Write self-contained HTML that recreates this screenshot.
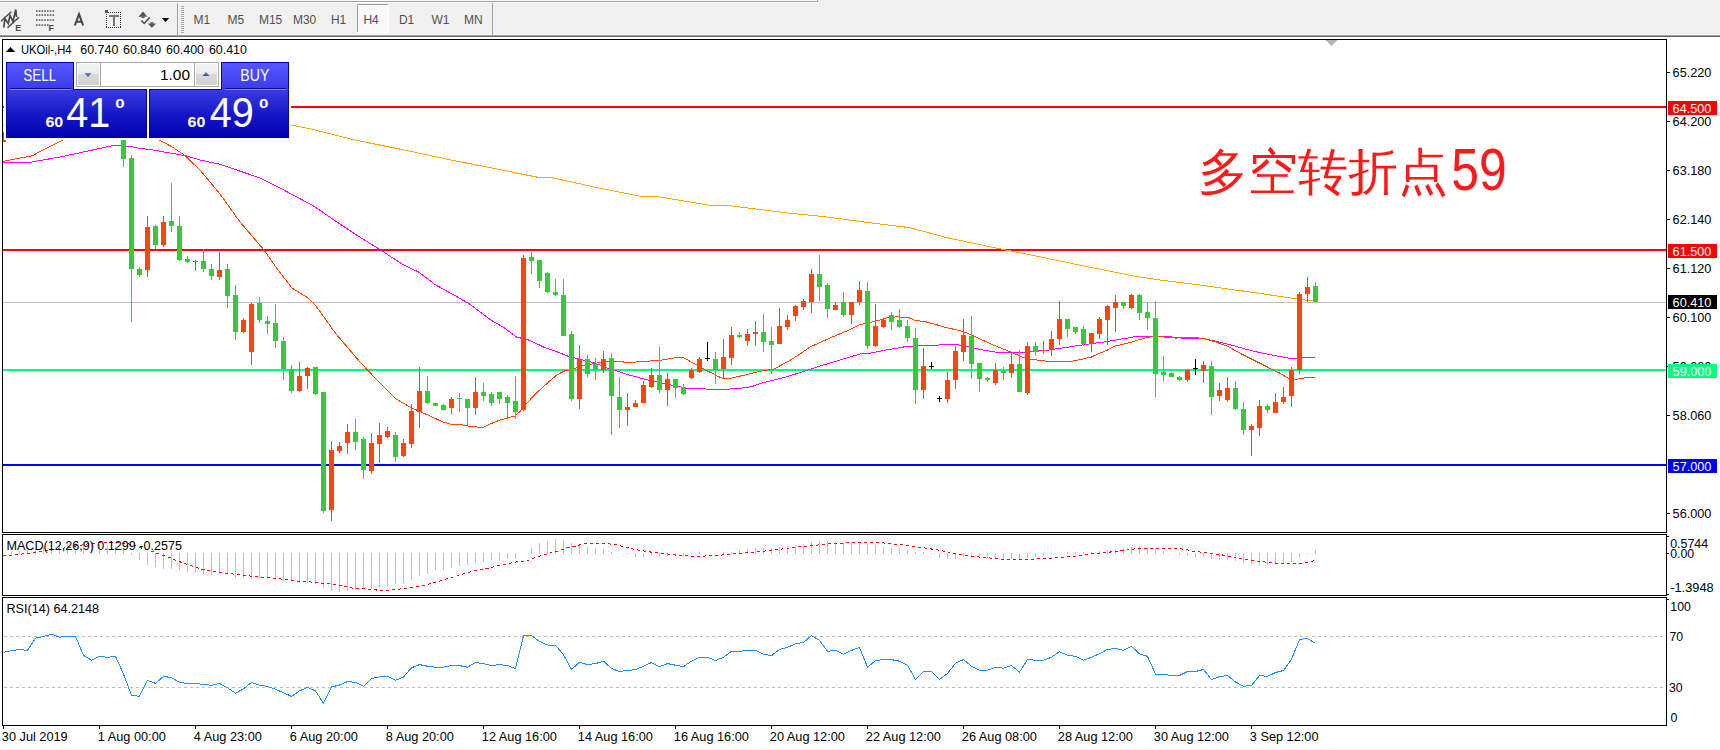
<!DOCTYPE html>
<html><head><meta charset="utf-8"><title>UKOil H4</title><style>html,body{margin:0;padding:0;background:#fff;width:1720px;height:750px;overflow:hidden}
svg{position:absolute;left:0;top:0}
svg text{font-family:"Liberation Sans",sans-serif}</style></head><body>
<svg width="1720" height="750" viewBox="0 0 1720 750" shape-rendering="crispEdges">
<rect x="0" y="0" width="1720" height="37" fill="#f0f0f0"/>
<rect x="0" y="0" width="817" height="1" fill="#fafafa"/>
<rect x="0" y="1" width="818" height="1" fill="#a0a0a0"/>
<rect x="817" y="0" width="1" height="2" fill="#a0a0a0"/>
<rect x="0" y="2" width="819" height="1" fill="#ffffff"/>
<rect x="0" y="34" width="1720" height="1" fill="#f9f9f9"/>
<rect x="0" y="35" width="1720" height="1" fill="#a0a0a0"/>
<rect x="0" y="36" width="1720" height="1" fill="#696969"/>
<rect x="0" y="37" width="1720" height="2" fill="#ffffff"/>
<g fill="none" stroke="#4a4a4a" stroke-width="1.5" shape-rendering="auto">
<path d="M1,21.2 L11.3,11.8 M7.5,27.8 L19,17.3"/>
<path d="M3.8,27.5 L4.8,18.5 L8.3,23.5 L10,15.5 L13,21.5 L15.8,9.5 L16.5,17" stroke-width="1.7"/>
</g>
<text x="15.2" y="30.6" font-family="DejaVu Sans" font-weight="bold" font-size="9" fill="#4a4a4a">E</text>
<rect x="36.00" y="10.3" width="1.6" height="1.5" fill="#555" shape-rendering="auto"/>
<rect x="38.75" y="10.3" width="1.6" height="1.5" fill="#555" shape-rendering="auto"/>
<rect x="41.50" y="10.3" width="1.6" height="1.5" fill="#555" shape-rendering="auto"/>
<rect x="44.25" y="10.3" width="1.6" height="1.5" fill="#555" shape-rendering="auto"/>
<rect x="47.00" y="10.3" width="1.6" height="1.5" fill="#555" shape-rendering="auto"/>
<rect x="49.75" y="10.3" width="1.6" height="1.5" fill="#555" shape-rendering="auto"/>
<rect x="52.50" y="10.3" width="1.6" height="1.5" fill="#555" shape-rendering="auto"/>
<rect x="36.00" y="14.3" width="1.6" height="1.5" fill="#555" shape-rendering="auto"/>
<rect x="38.75" y="14.3" width="1.6" height="1.5" fill="#555" shape-rendering="auto"/>
<rect x="41.50" y="14.3" width="1.6" height="1.5" fill="#555" shape-rendering="auto"/>
<rect x="44.25" y="14.3" width="1.6" height="1.5" fill="#555" shape-rendering="auto"/>
<rect x="47.00" y="14.3" width="1.6" height="1.5" fill="#555" shape-rendering="auto"/>
<rect x="49.75" y="14.3" width="1.6" height="1.5" fill="#555" shape-rendering="auto"/>
<rect x="52.50" y="14.3" width="1.6" height="1.5" fill="#555" shape-rendering="auto"/>
<rect x="36.00" y="19.3" width="1.6" height="1.5" fill="#555" shape-rendering="auto"/>
<rect x="38.75" y="19.3" width="1.6" height="1.5" fill="#555" shape-rendering="auto"/>
<rect x="41.50" y="19.3" width="1.6" height="1.5" fill="#555" shape-rendering="auto"/>
<rect x="44.25" y="19.3" width="1.6" height="1.5" fill="#555" shape-rendering="auto"/>
<rect x="47.00" y="19.3" width="1.6" height="1.5" fill="#555" shape-rendering="auto"/>
<rect x="49.75" y="19.3" width="1.6" height="1.5" fill="#555" shape-rendering="auto"/>
<rect x="52.50" y="19.3" width="1.6" height="1.5" fill="#555" shape-rendering="auto"/>
<rect x="36.00" y="24.3" width="1.6" height="1.5" fill="#555" shape-rendering="auto"/>
<rect x="38.75" y="24.3" width="1.6" height="1.5" fill="#555" shape-rendering="auto"/>
<rect x="41.50" y="24.3" width="1.6" height="1.5" fill="#555" shape-rendering="auto"/>
<rect x="44.25" y="24.3" width="1.6" height="1.5" fill="#555" shape-rendering="auto"/>
<rect x="47.00" y="24.3" width="1.6" height="1.5" fill="#555" shape-rendering="auto"/>
<text x="48.6" y="30.6" font-family="DejaVu Sans" font-weight="bold" font-size="9" fill="#4a4a4a">F</text>
<path d="M74.8,25.5 L79,14.2 L83.2,25.5 M76.4,21.8 L81.6,21.8" fill="none" stroke="#444" stroke-width="2" shape-rendering="auto"/>
<rect x="106" y="12" width="1" height="1" fill="#333"/>
<rect x="106" y="27" width="1" height="1" fill="#333"/>
<rect x="108" y="12" width="1" height="1" fill="#333"/>
<rect x="108" y="27" width="1" height="1" fill="#333"/>
<rect x="110" y="12" width="1" height="1" fill="#333"/>
<rect x="110" y="27" width="1" height="1" fill="#333"/>
<rect x="112" y="12" width="1" height="1" fill="#333"/>
<rect x="112" y="27" width="1" height="1" fill="#333"/>
<rect x="114" y="12" width="1" height="1" fill="#333"/>
<rect x="114" y="27" width="1" height="1" fill="#333"/>
<rect x="116" y="12" width="1" height="1" fill="#333"/>
<rect x="116" y="27" width="1" height="1" fill="#333"/>
<rect x="118" y="12" width="1" height="1" fill="#333"/>
<rect x="118" y="27" width="1" height="1" fill="#333"/>
<rect x="120" y="12" width="1" height="1" fill="#333"/>
<rect x="120" y="27" width="1" height="1" fill="#333"/>
<rect x="106" y="12" width="1" height="1" fill="#333"/>
<rect x="120" y="12" width="1" height="1" fill="#333"/>
<rect x="106" y="14" width="1" height="1" fill="#333"/>
<rect x="120" y="14" width="1" height="1" fill="#333"/>
<rect x="106" y="16" width="1" height="1" fill="#333"/>
<rect x="120" y="16" width="1" height="1" fill="#333"/>
<rect x="106" y="18" width="1" height="1" fill="#333"/>
<rect x="120" y="18" width="1" height="1" fill="#333"/>
<rect x="106" y="20" width="1" height="1" fill="#333"/>
<rect x="120" y="20" width="1" height="1" fill="#333"/>
<rect x="106" y="22" width="1" height="1" fill="#333"/>
<rect x="120" y="22" width="1" height="1" fill="#333"/>
<rect x="106" y="24" width="1" height="1" fill="#333"/>
<rect x="120" y="24" width="1" height="1" fill="#333"/>
<rect x="106" y="26" width="1" height="1" fill="#333"/>
<rect x="120" y="26" width="1" height="1" fill="#333"/>
<rect x="105" y="10" width="3" height="3" fill="#555"/>
<rect x="108.5" y="15" width="10" height="2" fill="#777"/>
<rect x="112.5" y="15" width="2.3" height="10.5" fill="#777"/>
<g fill="#555" shape-rendering="auto"><path d="M138.5,16.8 L143,11.6 L147.4,16.8 Z"/><rect x="141.5" y="16.5" width="3" height="1.5"/><path d="M147.6,23.4 L151.9,27.8 L156.2,23.4 Z"/><rect x="150.4" y="22.2" width="3" height="1.5"/></g>
<path d="M141.3,20.6 L144.3,23.4 L149.8,17.4" fill="none" stroke="#555" stroke-width="1.6" shape-rendering="auto"/>
<path d="M161.8,18 L169.2,18 L165.5,22 Z" fill="#000" shape-rendering="auto"/>
<rect x="177" y="3" width="1" height="32" fill="#a0a0a0"/>
<rect x="181" y="6" width="3" height="1" fill="#a8a8a8"/>
<rect x="181" y="8" width="3" height="1" fill="#a8a8a8"/>
<rect x="181" y="10" width="3" height="1" fill="#a8a8a8"/>
<rect x="181" y="12" width="3" height="1" fill="#a8a8a8"/>
<rect x="181" y="14" width="3" height="1" fill="#a8a8a8"/>
<rect x="181" y="16" width="3" height="1" fill="#a8a8a8"/>
<rect x="181" y="18" width="3" height="1" fill="#a8a8a8"/>
<rect x="181" y="20" width="3" height="1" fill="#a8a8a8"/>
<rect x="181" y="22" width="3" height="1" fill="#a8a8a8"/>
<rect x="181" y="24" width="3" height="1" fill="#a8a8a8"/>
<rect x="181" y="26" width="3" height="1" fill="#a8a8a8"/>
<rect x="181" y="28" width="3" height="1" fill="#a8a8a8"/>
<rect x="181" y="30" width="3" height="1" fill="#a8a8a8"/>
<rect x="181" y="32" width="3" height="1" fill="#a8a8a8"/>
<rect x="357" y="4" width="32" height="29" fill="#f8f8f8"/>
<rect x="357" y="4" width="32" height="1" fill="#a0a0a0"/>
<rect x="357" y="4" width="1" height="29" fill="#a0a0a0"/>
<rect x="357" y="32" width="32" height="1" fill="#ffffff"/>
<rect x="388" y="4" width="1" height="29" fill="#ffffff"/>
<rect x="492" y="3" width="1" height="32" fill="#a0a0a0"/>
<text x="193.4" y="24.1" font-size="12" fill="#505050">M1</text>
<text x="227.4" y="24.1" font-size="12" fill="#505050">M5</text>
<text x="258.9" y="24.1" font-size="12" fill="#505050">M15</text>
<text x="292.9" y="24.1" font-size="12" fill="#505050">M30</text>
<text x="330.9" y="24.1" font-size="12" fill="#505050">H1</text>
<text x="363.4" y="24.1" font-size="12" fill="#505050">H4</text>
<text x="398.9" y="24.1" font-size="12" fill="#505050">D1</text>
<text x="431.4" y="24.1" font-size="12" fill="#505050">W1</text>
<text x="463.9" y="24.1" font-size="12" fill="#505050">MN</text>
<rect x="0" y="749" width="1720" height="1" fill="#f0f0f0"/>
<defs><clipPath id="cm"><rect x="3" y="40" width="1663" height="492"/></clipPath><clipPath id="cd"><rect x="3" y="535" width="1663" height="60"/></clipPath><clipPath id="cr"><rect x="3" y="598" width="1663" height="127"/></clipPath><linearGradient id="gtab" x1="0" y1="0" x2="0" y2="1"><stop offset="0" stop-color="#5858ff"/><stop offset="1" stop-color="#3a3aec"/></linearGradient><linearGradient id="gpx" x1="0" y1="0" x2="0" y2="1"><stop offset="0" stop-color="#3c3ce4"/><stop offset="0.5" stop-color="#1818c8"/><stop offset="1" stop-color="#0000b0"/></linearGradient><linearGradient id="gbtn" x1="0" y1="0" x2="0" y2="1"><stop offset="0" stop-color="#f2f2f2"/><stop offset="0.45" stop-color="#ebebeb"/><stop offset="0.5" stop-color="#dadada"/><stop offset="1" stop-color="#d2d2d2"/></linearGradient><linearGradient id="garr" x1="0" y1="0" x2="0" y2="1"><stop offset="0" stop-color="#6f86d8"/><stop offset="1" stop-color="#3c4c90"/></linearGradient></defs>
<g clip-path="url(#cm)">
<rect x="3" y="302" width="1663" height="1" fill="#c0c0c0"/>
<rect x="3" y="106" width="1663" height="2" fill="#ff0000"/>
<rect x="3" y="249" width="1663" height="2" fill="#ff0000"/>
<rect x="3" y="369" width="1663" height="2" fill="#00ff7f"/>
<rect x="3" y="464" width="1663" height="2" fill="#0000ff"/>
<text x="1198.3" y="189" font-family="Liberation Sans, Noto Sans CJK SC, sans-serif" font-size="50" fill="#ff1a1a">多空转折点</text>
<text transform="translate(1451.2,189.5) scale(0.845,1)" font-family="Liberation Sans, sans-serif" font-size="59" fill="#ff1a1a">59</text>
<g fill="none" stroke-width="1" shape-rendering="crispEdges">
<polyline stroke="#ffa500" points="3.0,125.0 290.6,125.1 310.2,128.7 355.6,140.2 400.9,149.3 446.3,159.0 491.6,168.0 537.0,177.1 552.1,177.7 597.4,187.7 639.8,196.1 657.9,196.7 709.3,205.2 727.5,205.5 790.0,213.2 821.4,216.3 868.5,222.6 909.3,227.6 947.0,237.7 1003.5,249.6 1041.2,257.1 1088.3,266.9 1135.4,276.3 1160.0,280.0 1198.2,284.8 1261.0,293.6 1298.6,299.2 1314.0,301.0"/>
<polyline stroke="#ff00ff" points="3.0,162.3 30.0,162.3 61.4,156.7 93.0,149.9 113.0,145.5 122.0,145.5 130.0,146.5 140.0,148.3 154.4,150.2 170.0,153.0 186.0,155.8 200.0,160.0 219.5,164.2 260.5,178.1 280.0,188.0 313.3,205.8 340.0,224.0 355.6,234.5 380.0,249.6 401.3,263.5 418.4,272.0 435.4,284.8 454.6,295.4 469.6,304.0 490.9,320.0 503.7,327.4 516.5,337.0 529.3,340.2 544.0,347.2 556.0,351.4 568.0,356.2 580.0,359.2 594.4,362.8 608.8,368.8 618.4,371.4 630.0,375.2 646.0,379.5 662.0,383.2 678.0,386.4 687.6,388.5 703.6,388.8 718.0,390.0 742.0,388.0 752.0,386.6 760.0,383.6 770.0,381.0 786.0,377.0 802.0,372.0 820.0,366.0 840.0,360.0 860.0,354.0 870.0,353.3 887.3,349.8 904.7,346.8 927.2,345.5 948.0,344.6 956.9,344.6 967.3,346.3 976.0,348.6 984.7,350.3 995.1,352.0 1026.3,352.0 1046.0,350.4 1062.0,348.0 1078.0,345.6 1094.0,343.2 1106.8,341.6 1120.0,339.2 1127.3,338.1 1136.0,336.3 1167.2,336.3 1175.9,337.7 1191.5,338.6 1203.9,338.7 1216.0,341.3 1233.3,345.6 1250.7,350.5 1268.0,354.3 1280.0,356.5 1288.0,358.0 1298.0,358.0 1304.0,357.0 1315.0,357.4"/>
<polyline stroke="#ff4500" points="3.0,161.5 16.0,158.8 32.0,155.9 45.3,148.7 63.2,140.0 90.0,128.0 120.0,125.0 150.0,135.0 159.2,140.0 172.0,146.8 184.0,154.8 200.0,170.0 220.0,194.0 240.0,222.0 264.0,250.0 278.0,270.0 292.0,288.0 308.0,298.0 316.0,306.0 336.0,334.0 360.0,362.0 377.0,380.0 390.0,393.0 396.0,399.0 410.0,407.0 420.0,411.6 430.0,416.0 442.0,421.6 450.0,424.0 460.0,424.4 470.0,426.5 483.0,427.5 490.0,424.0 500.0,420.0 515.0,416.0 520.0,411.4 526.0,404.2 532.0,397.6 538.0,391.6 544.0,386.2 551.2,379.6 557.2,374.8 564.4,371.0 574.0,368.8 583.6,365.4 592.0,364.0 601.6,362.2 610.0,361.2 630.0,362.4 646.0,361.3 662.0,360.0 671.6,358.4 679.6,357.3 683.6,357.6 689.2,360.8 697.2,365.3 702.0,368.0 706.8,370.9 713.2,373.6 717.2,376.0 722.0,378.0 732.0,378.0 760.0,371.4 774.0,369.0 790.0,360.4 800.0,354.0 810.0,347.0 830.0,338.0 850.0,329.6 859.0,325.0 870.0,322.5 878.7,320.3 887.3,317.7 896.0,316.9 908.1,317.4 915.0,320.3 927.2,322.1 939.3,325.5 948.0,328.1 956.9,329.9 965.6,332.5 974.3,336.4 984.7,341.1 995.1,345.8 1010.7,352.0 1022.8,357.2 1031.5,359.3 1039.6,360.3 1049.2,361.6 1070.0,361.6 1078.0,360.0 1090.8,357.3 1098.8,353.6 1106.8,350.4 1114.8,346.1 1127.3,343.3 1144.7,338.1 1153.3,336.3 1167.2,337.2 1175.9,338.1 1182.8,337.2 1191.5,337.5 1203.9,338.3 1216.0,342.1 1228.1,346.5 1242.0,354.3 1255.9,361.2 1266.3,366.4 1272.0,369.5 1280.0,373.3 1288.0,378.0 1295.0,379.6 1306.0,377.6 1315.0,377.6"/>
</g>
<rect x="3" y="132" width="1" height="10" fill="#ff4500"/>
<rect x="1" y="140" width="5" height="2" fill="#ff4500"/>
<rect x="123" y="138" width="1" height="29" fill="#32cd32"/>
<rect x="121" y="140" width="5" height="19" fill="#32cd32"/>
<rect x="131" y="155" width="1" height="167" fill="#32cd32"/>
<rect x="129" y="158" width="5" height="111" fill="#32cd32"/>
<rect x="139" y="267" width="1" height="10" fill="#32cd32"/>
<rect x="137" y="269" width="5" height="6" fill="#32cd32"/>
<rect x="147" y="216" width="1" height="61" fill="#ff4500"/>
<rect x="145" y="227" width="5" height="43" fill="#ff4500"/>
<rect x="155" y="225" width="1" height="24" fill="#32cd32"/>
<rect x="153" y="226" width="5" height="19" fill="#32cd32"/>
<rect x="163" y="216" width="1" height="31" fill="#ff4500"/>
<rect x="161" y="222" width="5" height="23" fill="#ff4500"/>
<rect x="171" y="183" width="1" height="49" fill="#32cd32"/>
<rect x="169" y="221" width="5" height="5" fill="#32cd32"/>
<rect x="179" y="216" width="1" height="45" fill="#32cd32"/>
<rect x="177" y="226" width="5" height="34" fill="#32cd32"/>
<rect x="187" y="256" width="1" height="7" fill="#32cd32"/>
<rect x="185" y="259" width="5" height="3" fill="#32cd32"/>
<rect x="195" y="260" width="1" height="11" fill="#ff4500"/>
<rect x="193" y="261" width="5" height="1" fill="#ff4500"/>
<rect x="203" y="249" width="1" height="23" fill="#32cd32"/>
<rect x="201" y="261" width="5" height="8" fill="#32cd32"/>
<rect x="211" y="264" width="1" height="16" fill="#32cd32"/>
<rect x="209" y="269" width="5" height="7" fill="#32cd32"/>
<rect x="219" y="252" width="1" height="28" fill="#ff4500"/>
<rect x="217" y="270" width="5" height="7" fill="#ff4500"/>
<rect x="227" y="264" width="1" height="44" fill="#32cd32"/>
<rect x="225" y="269" width="5" height="27" fill="#32cd32"/>
<rect x="235" y="285" width="1" height="55" fill="#32cd32"/>
<rect x="233" y="295" width="5" height="37" fill="#32cd32"/>
<rect x="243" y="318" width="1" height="15" fill="#ff4500"/>
<rect x="241" y="320" width="5" height="12" fill="#ff4500"/>
<rect x="251" y="303" width="1" height="62" fill="#ff4500"/>
<rect x="249" y="304" width="5" height="48" fill="#ff4500"/>
<rect x="259" y="297" width="1" height="26" fill="#32cd32"/>
<rect x="257" y="303" width="5" height="17" fill="#32cd32"/>
<rect x="267" y="316" width="1" height="18" fill="#32cd32"/>
<rect x="265" y="321" width="5" height="3" fill="#32cd32"/>
<rect x="275" y="304" width="1" height="44" fill="#32cd32"/>
<rect x="273" y="323" width="5" height="18" fill="#32cd32"/>
<rect x="283" y="337" width="1" height="43" fill="#32cd32"/>
<rect x="281" y="341" width="5" height="28" fill="#32cd32"/>
<rect x="291" y="365" width="1" height="28" fill="#32cd32"/>
<rect x="289" y="369" width="5" height="22" fill="#32cd32"/>
<rect x="299" y="362" width="1" height="30" fill="#ff4500"/>
<rect x="297" y="376" width="5" height="15" fill="#ff4500"/>
<rect x="307" y="367" width="1" height="22" fill="#ff4500"/>
<rect x="305" y="368" width="5" height="8" fill="#ff4500"/>
<rect x="315" y="367" width="1" height="28" fill="#32cd32"/>
<rect x="313" y="367" width="5" height="27" fill="#32cd32"/>
<rect x="323" y="392" width="1" height="121" fill="#32cd32"/>
<rect x="321" y="392" width="5" height="119" fill="#32cd32"/>
<rect x="331" y="441" width="1" height="80" fill="#ff4500"/>
<rect x="329" y="450" width="5" height="60" fill="#ff4500"/>
<rect x="339" y="442" width="1" height="11" fill="#ff4500"/>
<rect x="337" y="446" width="5" height="5" fill="#ff4500"/>
<rect x="347" y="424" width="1" height="30" fill="#ff4500"/>
<rect x="345" y="432" width="5" height="11" fill="#ff4500"/>
<rect x="355" y="419" width="1" height="31" fill="#32cd32"/>
<rect x="353" y="432" width="5" height="10" fill="#32cd32"/>
<rect x="363" y="437" width="1" height="42" fill="#32cd32"/>
<rect x="361" y="439" width="5" height="31" fill="#32cd32"/>
<rect x="371" y="433" width="1" height="41" fill="#ff4500"/>
<rect x="369" y="443" width="5" height="28" fill="#ff4500"/>
<rect x="379" y="423" width="1" height="40" fill="#ff4500"/>
<rect x="377" y="435" width="5" height="9" fill="#ff4500"/>
<rect x="387" y="427" width="1" height="11" fill="#ff4500"/>
<rect x="385" y="431" width="5" height="6" fill="#ff4500"/>
<rect x="395" y="432" width="1" height="30" fill="#32cd32"/>
<rect x="393" y="435" width="5" height="22" fill="#32cd32"/>
<rect x="403" y="439" width="1" height="18" fill="#ff4500"/>
<rect x="401" y="443" width="5" height="13" fill="#ff4500"/>
<rect x="411" y="404" width="1" height="44" fill="#ff4500"/>
<rect x="409" y="411" width="5" height="33" fill="#ff4500"/>
<rect x="419" y="367" width="1" height="61" fill="#ff4500"/>
<rect x="417" y="391" width="5" height="21" fill="#ff4500"/>
<rect x="427" y="376" width="1" height="28" fill="#32cd32"/>
<rect x="425" y="391" width="5" height="12" fill="#32cd32"/>
<rect x="435" y="403" width="1" height="3" fill="#32cd32"/>
<rect x="433" y="403" width="5" height="3" fill="#32cd32"/>
<rect x="443" y="404" width="1" height="6" fill="#32cd32"/>
<rect x="441" y="405" width="5" height="5" fill="#32cd32"/>
<rect x="451" y="397" width="1" height="17" fill="#ff4500"/>
<rect x="449" y="399" width="5" height="9" fill="#ff4500"/>
<rect x="459" y="393" width="1" height="19" fill="#32cd32"/>
<rect x="457" y="398" width="5" height="1" fill="#32cd32"/>
<rect x="467" y="399" width="1" height="26" fill="#32cd32"/>
<rect x="465" y="399" width="5" height="9" fill="#32cd32"/>
<rect x="475" y="377" width="1" height="38" fill="#ff4500"/>
<rect x="473" y="392" width="5" height="16" fill="#ff4500"/>
<rect x="483" y="383" width="1" height="18" fill="#32cd32"/>
<rect x="481" y="392" width="5" height="4" fill="#32cd32"/>
<rect x="491" y="392" width="1" height="14" fill="#32cd32"/>
<rect x="489" y="394" width="5" height="9" fill="#32cd32"/>
<rect x="499" y="392" width="1" height="12" fill="#32cd32"/>
<rect x="497" y="392" width="5" height="7" fill="#32cd32"/>
<rect x="507" y="395" width="1" height="22" fill="#32cd32"/>
<rect x="505" y="397" width="5" height="6" fill="#32cd32"/>
<rect x="515" y="376" width="1" height="43" fill="#32cd32"/>
<rect x="513" y="401" width="5" height="11" fill="#32cd32"/>
<rect x="523" y="255" width="1" height="156" fill="#ff4500"/>
<rect x="521" y="258" width="5" height="152" fill="#ff4500"/>
<rect x="531" y="252" width="1" height="22" fill="#32cd32"/>
<rect x="529" y="257" width="5" height="4" fill="#32cd32"/>
<rect x="539" y="260" width="1" height="28" fill="#32cd32"/>
<rect x="537" y="260" width="5" height="21" fill="#32cd32"/>
<rect x="547" y="272" width="1" height="21" fill="#32cd32"/>
<rect x="545" y="273" width="5" height="19" fill="#32cd32"/>
<rect x="555" y="279" width="1" height="17" fill="#32cd32"/>
<rect x="553" y="292" width="5" height="3" fill="#32cd32"/>
<rect x="563" y="279" width="1" height="57" fill="#32cd32"/>
<rect x="561" y="295" width="5" height="41" fill="#32cd32"/>
<rect x="571" y="331" width="1" height="70" fill="#32cd32"/>
<rect x="569" y="334" width="5" height="65" fill="#32cd32"/>
<rect x="579" y="345" width="1" height="64" fill="#ff4500"/>
<rect x="577" y="359" width="5" height="40" fill="#ff4500"/>
<rect x="587" y="355" width="1" height="22" fill="#32cd32"/>
<rect x="585" y="359" width="5" height="15" fill="#32cd32"/>
<rect x="595" y="358" width="1" height="22" fill="#32cd32"/>
<rect x="593" y="364" width="5" height="6" fill="#32cd32"/>
<rect x="603" y="351" width="1" height="22" fill="#ff4500"/>
<rect x="601" y="359" width="5" height="11" fill="#ff4500"/>
<rect x="611" y="353" width="1" height="82" fill="#32cd32"/>
<rect x="609" y="358" width="5" height="38" fill="#32cd32"/>
<rect x="619" y="377" width="1" height="51" fill="#32cd32"/>
<rect x="617" y="397" width="5" height="13" fill="#32cd32"/>
<rect x="627" y="393" width="1" height="33" fill="#ff4500"/>
<rect x="625" y="407" width="5" height="3" fill="#ff4500"/>
<rect x="635" y="400" width="1" height="7" fill="#ff4500"/>
<rect x="633" y="403" width="5" height="4" fill="#ff4500"/>
<rect x="643" y="381" width="1" height="22" fill="#ff4500"/>
<rect x="641" y="385" width="5" height="18" fill="#ff4500"/>
<rect x="651" y="368" width="1" height="20" fill="#ff4500"/>
<rect x="649" y="375" width="5" height="12" fill="#ff4500"/>
<rect x="659" y="347" width="1" height="46" fill="#32cd32"/>
<rect x="657" y="375" width="5" height="15" fill="#32cd32"/>
<rect x="667" y="373" width="1" height="33" fill="#ff4500"/>
<rect x="665" y="379" width="5" height="11" fill="#ff4500"/>
<rect x="675" y="379" width="1" height="19" fill="#32cd32"/>
<rect x="673" y="379" width="5" height="9" fill="#32cd32"/>
<rect x="683" y="384" width="1" height="11" fill="#32cd32"/>
<rect x="681" y="387" width="5" height="7" fill="#32cd32"/>
<rect x="691" y="368" width="1" height="11" fill="#ff4500"/>
<rect x="689" y="370" width="5" height="8" fill="#ff4500"/>
<rect x="699" y="357" width="1" height="16" fill="#ff4500"/>
<rect x="697" y="359" width="5" height="13" fill="#ff4500"/>
<rect x="707" y="342" width="1" height="19" fill="#000"/>
<rect x="705" y="358" width="5" height="1" fill="#000"/>
<rect x="715" y="352" width="1" height="32" fill="#32cd32"/>
<rect x="713" y="359" width="5" height="11" fill="#32cd32"/>
<rect x="723" y="339" width="1" height="39" fill="#ff4500"/>
<rect x="721" y="357" width="5" height="12" fill="#ff4500"/>
<rect x="731" y="327" width="1" height="38" fill="#ff4500"/>
<rect x="729" y="335" width="5" height="23" fill="#ff4500"/>
<rect x="739" y="332" width="1" height="6" fill="#32cd32"/>
<rect x="737" y="335" width="5" height="2" fill="#32cd32"/>
<rect x="747" y="329" width="1" height="17" fill="#ff4500"/>
<rect x="745" y="334" width="5" height="7" fill="#ff4500"/>
<rect x="755" y="321" width="1" height="25" fill="#ff4500"/>
<rect x="753" y="332" width="5" height="2" fill="#ff4500"/>
<rect x="763" y="314" width="1" height="38" fill="#32cd32"/>
<rect x="761" y="332" width="5" height="10" fill="#32cd32"/>
<rect x="771" y="327" width="1" height="47" fill="#32cd32"/>
<rect x="769" y="341" width="5" height="4" fill="#32cd32"/>
<rect x="779" y="308" width="1" height="36" fill="#ff4500"/>
<rect x="777" y="326" width="5" height="18" fill="#ff4500"/>
<rect x="787" y="315" width="1" height="15" fill="#ff4500"/>
<rect x="785" y="320" width="5" height="7" fill="#ff4500"/>
<rect x="795" y="305" width="1" height="16" fill="#ff4500"/>
<rect x="793" y="306" width="5" height="10" fill="#ff4500"/>
<rect x="803" y="299" width="1" height="11" fill="#ff4500"/>
<rect x="801" y="301" width="5" height="6" fill="#ff4500"/>
<rect x="811" y="269" width="1" height="44" fill="#ff4500"/>
<rect x="809" y="274" width="5" height="28" fill="#ff4500"/>
<rect x="819" y="255" width="1" height="46" fill="#32cd32"/>
<rect x="817" y="274" width="5" height="13" fill="#32cd32"/>
<rect x="827" y="283" width="1" height="35" fill="#32cd32"/>
<rect x="825" y="285" width="5" height="24" fill="#32cd32"/>
<rect x="835" y="302" width="1" height="8" fill="#ff4500"/>
<rect x="833" y="305" width="5" height="5" fill="#ff4500"/>
<rect x="843" y="292" width="1" height="25" fill="#32cd32"/>
<rect x="841" y="302" width="5" height="13" fill="#32cd32"/>
<rect x="851" y="302" width="1" height="22" fill="#ff4500"/>
<rect x="849" y="302" width="5" height="13" fill="#ff4500"/>
<rect x="859" y="281" width="1" height="24" fill="#ff4500"/>
<rect x="857" y="290" width="5" height="12" fill="#ff4500"/>
<rect x="867" y="282" width="1" height="67" fill="#32cd32"/>
<rect x="865" y="291" width="5" height="55" fill="#32cd32"/>
<rect x="875" y="304" width="1" height="43" fill="#ff4500"/>
<rect x="873" y="326" width="5" height="20" fill="#ff4500"/>
<rect x="883" y="319" width="1" height="9" fill="#ff4500"/>
<rect x="881" y="320" width="5" height="7" fill="#ff4500"/>
<rect x="891" y="312" width="1" height="18" fill="#32cd32"/>
<rect x="889" y="315" width="5" height="7" fill="#32cd32"/>
<rect x="899" y="309" width="1" height="19" fill="#32cd32"/>
<rect x="897" y="320" width="5" height="7" fill="#32cd32"/>
<rect x="907" y="320" width="1" height="22" fill="#32cd32"/>
<rect x="905" y="326" width="5" height="12" fill="#32cd32"/>
<rect x="915" y="328" width="1" height="76" fill="#32cd32"/>
<rect x="913" y="338" width="5" height="52" fill="#32cd32"/>
<rect x="923" y="348" width="1" height="51" fill="#ff4500"/>
<rect x="921" y="366" width="5" height="24" fill="#ff4500"/>
<rect x="931" y="362" width="1" height="7" fill="#000"/>
<rect x="929" y="366" width="5" height="1" fill="#000"/>
<rect x="939" y="396" width="1" height="6" fill="#000"/>
<rect x="937" y="398" width="5" height="1" fill="#000"/>
<rect x="947" y="372" width="1" height="31" fill="#ff4500"/>
<rect x="945" y="380" width="5" height="19" fill="#ff4500"/>
<rect x="955" y="346" width="1" height="43" fill="#ff4500"/>
<rect x="953" y="351" width="5" height="29" fill="#ff4500"/>
<rect x="963" y="319" width="1" height="42" fill="#ff4500"/>
<rect x="961" y="335" width="5" height="17" fill="#ff4500"/>
<rect x="971" y="316" width="1" height="63" fill="#32cd32"/>
<rect x="969" y="336" width="5" height="28" fill="#32cd32"/>
<rect x="979" y="363" width="1" height="29" fill="#32cd32"/>
<rect x="977" y="363" width="5" height="16" fill="#32cd32"/>
<rect x="987" y="377" width="1" height="5" fill="#32cd32"/>
<rect x="985" y="378" width="5" height="2" fill="#32cd32"/>
<rect x="995" y="363" width="1" height="22" fill="#ff4500"/>
<rect x="993" y="370" width="5" height="13" fill="#ff4500"/>
<rect x="1003" y="367" width="1" height="13" fill="#32cd32"/>
<rect x="1001" y="371" width="5" height="2" fill="#32cd32"/>
<rect x="1011" y="352" width="1" height="26" fill="#ff4500"/>
<rect x="1009" y="364" width="5" height="9" fill="#ff4500"/>
<rect x="1019" y="350" width="1" height="42" fill="#32cd32"/>
<rect x="1017" y="364" width="5" height="28" fill="#32cd32"/>
<rect x="1027" y="342" width="1" height="53" fill="#ff4500"/>
<rect x="1025" y="346" width="5" height="47" fill="#ff4500"/>
<rect x="1035" y="342" width="1" height="14" fill="#32cd32"/>
<rect x="1033" y="346" width="5" height="6" fill="#32cd32"/>
<rect x="1043" y="341" width="1" height="13" fill="#ff4500"/>
<rect x="1041" y="350" width="5" height="1" fill="#ff4500"/>
<rect x="1051" y="331" width="1" height="25" fill="#ff4500"/>
<rect x="1049" y="339" width="5" height="11" fill="#ff4500"/>
<rect x="1059" y="301" width="1" height="44" fill="#ff4500"/>
<rect x="1057" y="319" width="5" height="20" fill="#ff4500"/>
<rect x="1067" y="319" width="1" height="18" fill="#32cd32"/>
<rect x="1065" y="319" width="5" height="10" fill="#32cd32"/>
<rect x="1075" y="327" width="1" height="7" fill="#32cd32"/>
<rect x="1073" y="327" width="5" height="5" fill="#32cd32"/>
<rect x="1083" y="326" width="1" height="20" fill="#32cd32"/>
<rect x="1081" y="329" width="5" height="15" fill="#32cd32"/>
<rect x="1091" y="333" width="1" height="19" fill="#ff4500"/>
<rect x="1089" y="333" width="5" height="11" fill="#ff4500"/>
<rect x="1099" y="317" width="1" height="22" fill="#ff4500"/>
<rect x="1097" y="319" width="5" height="15" fill="#ff4500"/>
<rect x="1107" y="305" width="1" height="40" fill="#ff4500"/>
<rect x="1105" y="306" width="5" height="14" fill="#ff4500"/>
<rect x="1115" y="295" width="1" height="37" fill="#ff4500"/>
<rect x="1113" y="302" width="5" height="6" fill="#ff4500"/>
<rect x="1123" y="302" width="1" height="7" fill="#32cd32"/>
<rect x="1121" y="302" width="5" height="4" fill="#32cd32"/>
<rect x="1131" y="294" width="1" height="15" fill="#ff4500"/>
<rect x="1129" y="295" width="5" height="13" fill="#ff4500"/>
<rect x="1139" y="294" width="1" height="26" fill="#32cd32"/>
<rect x="1137" y="295" width="5" height="18" fill="#32cd32"/>
<rect x="1147" y="303" width="1" height="27" fill="#32cd32"/>
<rect x="1145" y="312" width="5" height="6" fill="#32cd32"/>
<rect x="1155" y="301" width="1" height="96" fill="#32cd32"/>
<rect x="1153" y="318" width="5" height="56" fill="#32cd32"/>
<rect x="1163" y="356" width="1" height="25" fill="#32cd32"/>
<rect x="1161" y="372" width="5" height="3" fill="#32cd32"/>
<rect x="1171" y="372" width="1" height="5" fill="#32cd32"/>
<rect x="1169" y="373" width="5" height="4" fill="#32cd32"/>
<rect x="1179" y="376" width="1" height="5" fill="#32cd32"/>
<rect x="1177" y="377" width="5" height="3" fill="#32cd32"/>
<rect x="1187" y="369" width="1" height="13" fill="#ff4500"/>
<rect x="1185" y="370" width="5" height="10" fill="#ff4500"/>
<rect x="1195" y="359" width="1" height="16" fill="#000"/>
<rect x="1193" y="368" width="5" height="1" fill="#000"/>
<rect x="1203" y="361" width="1" height="22" fill="#ff4500"/>
<rect x="1201" y="365" width="5" height="6" fill="#ff4500"/>
<rect x="1211" y="361" width="1" height="54" fill="#32cd32"/>
<rect x="1209" y="366" width="5" height="31" fill="#32cd32"/>
<rect x="1219" y="383" width="1" height="18" fill="#ff4500"/>
<rect x="1217" y="390" width="5" height="6" fill="#ff4500"/>
<rect x="1227" y="377" width="1" height="25" fill="#ff4500"/>
<rect x="1225" y="388" width="5" height="12" fill="#ff4500"/>
<rect x="1235" y="381" width="1" height="29" fill="#32cd32"/>
<rect x="1233" y="388" width="5" height="21" fill="#32cd32"/>
<rect x="1243" y="402" width="1" height="33" fill="#32cd32"/>
<rect x="1241" y="409" width="5" height="21" fill="#32cd32"/>
<rect x="1251" y="424" width="1" height="32" fill="#ff4500"/>
<rect x="1249" y="426" width="5" height="4" fill="#ff4500"/>
<rect x="1259" y="400" width="1" height="36" fill="#ff4500"/>
<rect x="1257" y="406" width="5" height="22" fill="#ff4500"/>
<rect x="1267" y="404" width="1" height="9" fill="#32cd32"/>
<rect x="1265" y="406" width="5" height="4" fill="#32cd32"/>
<rect x="1275" y="393" width="1" height="20" fill="#ff4500"/>
<rect x="1273" y="402" width="5" height="11" fill="#ff4500"/>
<rect x="1283" y="387" width="1" height="17" fill="#ff4500"/>
<rect x="1281" y="397" width="5" height="5" fill="#ff4500"/>
<rect x="1291" y="367" width="1" height="40" fill="#ff4500"/>
<rect x="1289" y="370" width="5" height="26" fill="#ff4500"/>
<rect x="1299" y="292" width="1" height="82" fill="#ff4500"/>
<rect x="1297" y="294" width="5" height="76" fill="#ff4500"/>
<rect x="1307" y="277" width="1" height="25" fill="#ff4500"/>
<rect x="1305" y="287" width="5" height="7" fill="#ff4500"/>
<rect x="1315" y="282" width="1" height="20" fill="#32cd32"/>
<rect x="1313" y="286" width="5" height="16" fill="#32cd32"/>
</g>
<path d="M1325.5,40 L1337.5,40 L1331.5,46 Z" fill="#b4b4b4" shape-rendering="auto"/>
<rect x="2" y="39" width="1665" height="1" fill="#000"/>
<rect x="2" y="532" width="1665" height="1" fill="#000"/>
<rect x="2" y="39" width="1" height="494" fill="#000"/>
<rect x="1666" y="39" width="1" height="494" fill="#000"/>
<rect x="2" y="534" width="1665" height="1" fill="#000"/>
<rect x="2" y="595" width="1665" height="1" fill="#000"/>
<rect x="2" y="534" width="1" height="62" fill="#000"/>
<rect x="1666" y="534" width="1" height="62" fill="#000"/>
<rect x="2" y="597" width="1665" height="1" fill="#000"/>
<rect x="2" y="725" width="1665" height="1" fill="#000"/>
<rect x="2" y="597" width="1" height="129" fill="#000"/>
<rect x="1666" y="597" width="1" height="129" fill="#000"/>
<rect x="1667" y="72" width="3" height="1" fill="#000"/>
<text x="1672.6" y="77" font-size="12" fill="#000" textLength="38.8" lengthAdjust="spacingAndGlyphs">65.220</text>
<rect x="1667" y="121" width="3" height="1" fill="#000"/>
<text x="1672.6" y="126" font-size="12" fill="#000" textLength="38.8" lengthAdjust="spacingAndGlyphs">64.200</text>
<rect x="1667" y="170" width="3" height="1" fill="#000"/>
<text x="1672.6" y="175" font-size="12" fill="#000" textLength="38.8" lengthAdjust="spacingAndGlyphs">63.180</text>
<rect x="1667" y="219" width="3" height="1" fill="#000"/>
<text x="1672.6" y="224" font-size="12" fill="#000" textLength="38.8" lengthAdjust="spacingAndGlyphs">62.140</text>
<rect x="1667" y="268" width="3" height="1" fill="#000"/>
<text x="1672.6" y="273" font-size="12" fill="#000" textLength="38.8" lengthAdjust="spacingAndGlyphs">61.120</text>
<rect x="1667" y="317" width="3" height="1" fill="#000"/>
<text x="1672.6" y="322" font-size="12" fill="#000" textLength="38.8" lengthAdjust="spacingAndGlyphs">60.100</text>
<rect x="1667" y="366" width="3" height="1" fill="#000"/>
<text x="1672.6" y="371" font-size="12" fill="#000" textLength="38.8" lengthAdjust="spacingAndGlyphs">59.080</text>
<rect x="1667" y="415" width="3" height="1" fill="#000"/>
<text x="1672.6" y="420" font-size="12" fill="#000" textLength="38.8" lengthAdjust="spacingAndGlyphs">58.060</text>
<rect x="1667" y="513" width="3" height="1" fill="#000"/>
<text x="1672.6" y="518" font-size="12" fill="#000" textLength="38.8" lengthAdjust="spacingAndGlyphs">56.000</text>
<rect x="1668" y="101" width="49" height="14" fill="#ff0000"/>
<text x="1672.6" y="113" font-size="12" fill="#fff" textLength="38.8" lengthAdjust="spacingAndGlyphs">64.500</text>
<rect x="1668" y="244" width="49" height="14" fill="#ff0000"/>
<text x="1672.6" y="256" font-size="12" fill="#fff" textLength="38.8" lengthAdjust="spacingAndGlyphs">61.500</text>
<rect x="1668" y="295" width="49" height="14" fill="#000000"/>
<text x="1672.6" y="307" font-size="12" fill="#fff" textLength="38.8" lengthAdjust="spacingAndGlyphs">60.410</text>
<rect x="1668" y="364" width="49" height="14" fill="#00ff7f"/>
<text x="1672.6" y="376" font-size="12" fill="#fff" textLength="38.8" lengthAdjust="spacingAndGlyphs">59.000</text>
<rect x="1668" y="459" width="49" height="14" fill="#0000ff"/>
<text x="1672.6" y="471" font-size="12" fill="#fff" textLength="38.8" lengthAdjust="spacingAndGlyphs">57.000</text>
<path d="M5.8,52 L10.5,47 L15.2,52 Z" fill="#000" shape-rendering="auto"/>
<text x="21" y="54" font-size="12" fill="#000" textLength="50.5" lengthAdjust="spacingAndGlyphs">UKOil-,H4</text>
<text x="80.3" y="54" font-size="12" fill="#000" textLength="38.0" lengthAdjust="spacingAndGlyphs">60.740</text>
<text x="123.1" y="54" font-size="12" fill="#000" textLength="38.0" lengthAdjust="spacingAndGlyphs">60.840</text>
<text x="166" y="54" font-size="12" fill="#000" textLength="38.0" lengthAdjust="spacingAndGlyphs">60.400</text>
<text x="208.9" y="54" font-size="12" fill="#000" textLength="38.0" lengthAdjust="spacingAndGlyphs">60.410</text>
<g clip-path="url(#cd)">
<rect x="11" y="552" width="1" height="2" fill="#c0c0c0"/>
<rect x="19" y="551" width="1" height="3" fill="#c0c0c0"/>
<rect x="27" y="550" width="1" height="4" fill="#c0c0c0"/>
<rect x="35" y="550" width="1" height="4" fill="#c0c0c0"/>
<rect x="43" y="546" width="1" height="8" fill="#c0c0c0"/>
<rect x="51" y="544" width="1" height="10" fill="#c0c0c0"/>
<rect x="59" y="543" width="1" height="11" fill="#c0c0c0"/>
<rect x="67" y="543" width="1" height="11" fill="#c0c0c0"/>
<rect x="75" y="543" width="1" height="11" fill="#c0c0c0"/>
<rect x="83" y="543" width="1" height="11" fill="#c0c0c0"/>
<rect x="91" y="543" width="1" height="11" fill="#c0c0c0"/>
<rect x="99" y="544" width="1" height="10" fill="#c0c0c0"/>
<rect x="107" y="545" width="1" height="9" fill="#c0c0c0"/>
<rect x="115" y="546" width="1" height="8" fill="#c0c0c0"/>
<rect x="123" y="550" width="1" height="4" fill="#c0c0c0"/>
<rect x="131" y="553" width="1" height="2" fill="#c0c0c0"/>
<rect x="139" y="553" width="1" height="7" fill="#c0c0c0"/>
<rect x="147" y="553" width="1" height="12" fill="#c0c0c0"/>
<rect x="155" y="553" width="1" height="14" fill="#c0c0c0"/>
<rect x="163" y="553" width="1" height="16" fill="#c0c0c0"/>
<rect x="171" y="553" width="1" height="16" fill="#c0c0c0"/>
<rect x="179" y="553" width="1" height="17" fill="#c0c0c0"/>
<rect x="187" y="553" width="1" height="19" fill="#c0c0c0"/>
<rect x="195" y="553" width="1" height="20" fill="#c0c0c0"/>
<rect x="203" y="553" width="1" height="21" fill="#c0c0c0"/>
<rect x="211" y="553" width="1" height="22" fill="#c0c0c0"/>
<rect x="219" y="553" width="1" height="21" fill="#c0c0c0"/>
<rect x="227" y="553" width="1" height="21" fill="#c0c0c0"/>
<rect x="235" y="553" width="1" height="25" fill="#c0c0c0"/>
<rect x="243" y="553" width="1" height="25" fill="#c0c0c0"/>
<rect x="251" y="553" width="1" height="26" fill="#c0c0c0"/>
<rect x="259" y="553" width="1" height="25" fill="#c0c0c0"/>
<rect x="267" y="553" width="1" height="26" fill="#c0c0c0"/>
<rect x="275" y="553" width="1" height="26" fill="#c0c0c0"/>
<rect x="283" y="553" width="1" height="28" fill="#c0c0c0"/>
<rect x="291" y="553" width="1" height="29" fill="#c0c0c0"/>
<rect x="299" y="553" width="1" height="30" fill="#c0c0c0"/>
<rect x="307" y="553" width="1" height="30" fill="#c0c0c0"/>
<rect x="315" y="553" width="1" height="31" fill="#c0c0c0"/>
<rect x="323" y="553" width="1" height="35" fill="#c0c0c0"/>
<rect x="331" y="553" width="1" height="38" fill="#c0c0c0"/>
<rect x="339" y="553" width="1" height="39" fill="#c0c0c0"/>
<rect x="347" y="553" width="1" height="38" fill="#c0c0c0"/>
<rect x="355" y="553" width="1" height="37" fill="#c0c0c0"/>
<rect x="363" y="553" width="1" height="36" fill="#c0c0c0"/>
<rect x="371" y="553" width="1" height="36" fill="#c0c0c0"/>
<rect x="379" y="553" width="1" height="34" fill="#c0c0c0"/>
<rect x="387" y="553" width="1" height="33" fill="#c0c0c0"/>
<rect x="395" y="553" width="1" height="31" fill="#c0c0c0"/>
<rect x="403" y="553" width="1" height="30" fill="#c0c0c0"/>
<rect x="411" y="553" width="1" height="27" fill="#c0c0c0"/>
<rect x="419" y="553" width="1" height="23" fill="#c0c0c0"/>
<rect x="427" y="553" width="1" height="21" fill="#c0c0c0"/>
<rect x="435" y="553" width="1" height="17" fill="#c0c0c0"/>
<rect x="443" y="553" width="1" height="17" fill="#c0c0c0"/>
<rect x="451" y="553" width="1" height="15" fill="#c0c0c0"/>
<rect x="459" y="553" width="1" height="13" fill="#c0c0c0"/>
<rect x="467" y="553" width="1" height="12" fill="#c0c0c0"/>
<rect x="475" y="553" width="1" height="10" fill="#c0c0c0"/>
<rect x="483" y="553" width="1" height="9" fill="#c0c0c0"/>
<rect x="491" y="553" width="1" height="7" fill="#c0c0c0"/>
<rect x="499" y="553" width="1" height="7" fill="#c0c0c0"/>
<rect x="507" y="553" width="1" height="6" fill="#c0c0c0"/>
<rect x="515" y="553" width="1" height="6" fill="#c0c0c0"/>
<rect x="531" y="548" width="1" height="6" fill="#c0c0c0"/>
<rect x="539" y="543" width="1" height="11" fill="#c0c0c0"/>
<rect x="547" y="541" width="1" height="13" fill="#c0c0c0"/>
<rect x="555" y="539" width="1" height="15" fill="#c0c0c0"/>
<rect x="563" y="540" width="1" height="14" fill="#c0c0c0"/>
<rect x="571" y="543" width="1" height="11" fill="#c0c0c0"/>
<rect x="579" y="545" width="1" height="9" fill="#c0c0c0"/>
<rect x="587" y="547" width="1" height="7" fill="#c0c0c0"/>
<rect x="595" y="548" width="1" height="6" fill="#c0c0c0"/>
<rect x="603" y="549" width="1" height="5" fill="#c0c0c0"/>
<rect x="611" y="552" width="1" height="2" fill="#c0c0c0"/>
<rect x="627" y="553" width="1" height="1" fill="#c0c0c0"/>
<rect x="635" y="553" width="1" height="4" fill="#c0c0c0"/>
<rect x="643" y="553" width="1" height="4" fill="#c0c0c0"/>
<rect x="651" y="553" width="1" height="3" fill="#c0c0c0"/>
<rect x="659" y="553" width="1" height="3" fill="#c0c0c0"/>
<rect x="667" y="553" width="1" height="3" fill="#c0c0c0"/>
<rect x="675" y="553" width="1" height="2" fill="#c0c0c0"/>
<rect x="683" y="553" width="1" height="3" fill="#c0c0c0"/>
<rect x="691" y="553" width="1" height="1" fill="#c0c0c0"/>
<rect x="699" y="552" width="1" height="2" fill="#c0c0c0"/>
<rect x="723" y="552" width="1" height="2" fill="#c0c0c0"/>
<rect x="731" y="552" width="1" height="2" fill="#c0c0c0"/>
<rect x="739" y="550" width="1" height="4" fill="#c0c0c0"/>
<rect x="747" y="549" width="1" height="5" fill="#c0c0c0"/>
<rect x="755" y="548" width="1" height="6" fill="#c0c0c0"/>
<rect x="763" y="548" width="1" height="6" fill="#c0c0c0"/>
<rect x="771" y="548" width="1" height="6" fill="#c0c0c0"/>
<rect x="779" y="547" width="1" height="7" fill="#c0c0c0"/>
<rect x="787" y="546" width="1" height="8" fill="#c0c0c0"/>
<rect x="795" y="545" width="1" height="9" fill="#c0c0c0"/>
<rect x="803" y="544" width="1" height="10" fill="#c0c0c0"/>
<rect x="811" y="542" width="1" height="12" fill="#c0c0c0"/>
<rect x="819" y="541" width="1" height="13" fill="#c0c0c0"/>
<rect x="827" y="541" width="1" height="13" fill="#c0c0c0"/>
<rect x="835" y="542" width="1" height="12" fill="#c0c0c0"/>
<rect x="843" y="542" width="1" height="12" fill="#c0c0c0"/>
<rect x="851" y="542" width="1" height="12" fill="#c0c0c0"/>
<rect x="859" y="542" width="1" height="12" fill="#c0c0c0"/>
<rect x="867" y="544" width="1" height="10" fill="#c0c0c0"/>
<rect x="875" y="545" width="1" height="9" fill="#c0c0c0"/>
<rect x="883" y="547" width="1" height="7" fill="#c0c0c0"/>
<rect x="891" y="548" width="1" height="6" fill="#c0c0c0"/>
<rect x="899" y="548" width="1" height="6" fill="#c0c0c0"/>
<rect x="907" y="550" width="1" height="4" fill="#c0c0c0"/>
<rect x="915" y="552" width="1" height="2" fill="#c0c0c0"/>
<rect x="923" y="552" width="1" height="2" fill="#c0c0c0"/>
<rect x="931" y="553" width="1" height="1" fill="#c0c0c0"/>
<rect x="939" y="553" width="1" height="5" fill="#c0c0c0"/>
<rect x="947" y="553" width="1" height="6" fill="#c0c0c0"/>
<rect x="955" y="553" width="1" height="6" fill="#c0c0c0"/>
<rect x="963" y="553" width="1" height="4" fill="#c0c0c0"/>
<rect x="971" y="553" width="1" height="4" fill="#c0c0c0"/>
<rect x="979" y="553" width="1" height="5" fill="#c0c0c0"/>
<rect x="987" y="553" width="1" height="5" fill="#c0c0c0"/>
<rect x="995" y="553" width="1" height="5" fill="#c0c0c0"/>
<rect x="1003" y="553" width="1" height="6" fill="#c0c0c0"/>
<rect x="1011" y="553" width="1" height="6" fill="#c0c0c0"/>
<rect x="1019" y="553" width="1" height="6" fill="#c0c0c0"/>
<rect x="1027" y="553" width="1" height="5" fill="#c0c0c0"/>
<rect x="1035" y="553" width="1" height="4" fill="#c0c0c0"/>
<rect x="1043" y="553" width="1" height="3" fill="#c0c0c0"/>
<rect x="1051" y="553" width="1" height="1" fill="#c0c0c0"/>
<rect x="1067" y="552" width="1" height="2" fill="#c0c0c0"/>
<rect x="1075" y="552" width="1" height="2" fill="#c0c0c0"/>
<rect x="1083" y="552" width="1" height="2" fill="#c0c0c0"/>
<rect x="1091" y="552" width="1" height="2" fill="#c0c0c0"/>
<rect x="1099" y="551" width="1" height="3" fill="#c0c0c0"/>
<rect x="1107" y="550" width="1" height="4" fill="#c0c0c0"/>
<rect x="1115" y="549" width="1" height="5" fill="#c0c0c0"/>
<rect x="1123" y="548" width="1" height="6" fill="#c0c0c0"/>
<rect x="1131" y="547" width="1" height="7" fill="#c0c0c0"/>
<rect x="1139" y="546" width="1" height="8" fill="#c0c0c0"/>
<rect x="1147" y="547" width="1" height="7" fill="#c0c0c0"/>
<rect x="1155" y="548" width="1" height="6" fill="#c0c0c0"/>
<rect x="1163" y="551" width="1" height="3" fill="#c0c0c0"/>
<rect x="1179" y="553" width="1" height="2" fill="#c0c0c0"/>
<rect x="1187" y="553" width="1" height="3" fill="#c0c0c0"/>
<rect x="1195" y="553" width="1" height="4" fill="#c0c0c0"/>
<rect x="1203" y="553" width="1" height="4" fill="#c0c0c0"/>
<rect x="1211" y="553" width="1" height="6" fill="#c0c0c0"/>
<rect x="1219" y="553" width="1" height="7" fill="#c0c0c0"/>
<rect x="1227" y="553" width="1" height="7" fill="#c0c0c0"/>
<rect x="1235" y="553" width="1" height="8" fill="#c0c0c0"/>
<rect x="1243" y="553" width="1" height="10" fill="#c0c0c0"/>
<rect x="1251" y="553" width="1" height="12" fill="#c0c0c0"/>
<rect x="1259" y="553" width="1" height="12" fill="#c0c0c0"/>
<rect x="1267" y="553" width="1" height="12" fill="#c0c0c0"/>
<rect x="1275" y="553" width="1" height="11" fill="#c0c0c0"/>
<rect x="1283" y="553" width="1" height="11" fill="#c0c0c0"/>
<rect x="1291" y="553" width="1" height="9" fill="#c0c0c0"/>
<rect x="1299" y="553" width="1" height="4" fill="#c0c0c0"/>
<rect x="1307" y="553" width="1" height="1" fill="#c0c0c0"/>
<rect x="1315" y="550" width="1" height="4" fill="#c0c0c0"/>
<polyline points="3.0,555.3 12.0,555.3 18.0,554.5 30.0,553.1 42.0,551.3 54.0,549.7 60.0,548.6 72.0,547.0 78.0,545.6 84.0,544.8 89.0,543.3 97.0,543.0 108.0,542.6 120.0,542.8 131.6,544.4 136.9,546.4 142.7,548.4 149.1,550.5 154.9,552.5 160.7,554.4 166.5,556.5 172.3,558.7 178.7,561.4 184.5,563.4 190.3,565.4 196.2,567.4 202.6,569.4 209.0,570.3 214.8,571.4 220.0,572.6 237.2,574.5 256.9,576.9 276.7,578.5 296.4,581.0 316.2,582.4 333.0,584.4 339.9,585.4 345.8,586.8 353.7,588.3 369.5,589.3 379.4,590.3 389.3,590.3 405.1,588.3 418.9,586.4 428.8,584.0 438.7,581.4 448.6,578.1 458.5,575.5 468.3,572.5 478.2,570.0 488.1,568.2 498.0,565.6 507.9,563.6 517.7,561.7 527.6,560.7 537.5,556.7 547.4,553.8 557.3,551.2 567.2,547.8 577.0,545.8 584.9,543.3 606.7,543.5 616.6,544.9 626.4,547.2 636.3,549.8 646.2,551.4 656.1,552.8 663.0,553.2 669.9,554.3 679.8,555.7 699.5,556.3 719.3,555.3 739.1,553.4 758.8,551.8 778.6,549.4 798.3,546.8 814.2,545.5 828.0,543.9 847.7,542.9 877.4,542.3 897.2,544.3 916.9,546.8 936.7,549.8 946.6,551.8 956.4,553.8 976.2,556.7 993.0,558.3 999.9,559.3 1029.5,559.3 1049.3,558.3 1069.0,556.7 1078.9,555.7 1088.8,554.3 1098.7,553.2 1108.6,552.2 1118.5,551.2 1128.3,549.8 1138.2,548.4 1158.0,548.4 1177.7,548.4 1187.6,549.8 1193.6,551.4 1207.4,552.8 1227.2,555.7 1237.0,558.3 1246.9,559.7 1266.7,562.2 1276.6,563.6 1296.3,563.6 1306.2,562.6 1314.1,560.7" fill="none" stroke="#ff0000" stroke-width="1" stroke-dasharray="3,3" shape-rendering="crispEdges"/>
</g>
<text x="6.5" y="550" font-size="12" fill="#000" textLength="175.5" lengthAdjust="spacingAndGlyphs">MACD(12,26,9) 0.1299 -0.2575</text>
<rect x="1667" y="536" width="2" height="1" fill="#000"/>
<text x="1670.2" y="548" font-size="12" fill="#000" textLength="38.0" lengthAdjust="spacingAndGlyphs">0.5744</text>
<rect x="1667" y="553" width="2" height="1" fill="#000"/>
<text x="1670.2" y="558" font-size="12" fill="#000" textLength="24.0" lengthAdjust="spacingAndGlyphs">0.00</text>
<rect x="1667" y="594" width="2" height="1" fill="#000"/>
<text x="1670.2" y="592" font-size="12" fill="#000" textLength="43.5" lengthAdjust="spacingAndGlyphs">-1.3948</text>
<g clip-path="url(#cr)">
<line x1="4" y1="636.5" x2="1666" y2="636.5" stroke="#c0c0c0" stroke-dasharray="3,3"/>
<line x1="4" y1="687.5" x2="1666" y2="687.5" stroke="#c0c0c0" stroke-dasharray="3,3"/>
<polyline points="3.5,652.3 11.5,650.8 19.5,649.4 27.5,650.4 35.5,638.1 43.5,636.5 51.5,634.2 59.5,637.1 67.5,636.5 75.5,636.5 83.5,655.3 91.5,660.2 99.5,656.3 107.5,657.3 115.5,656.3 123.5,674.1 131.5,695.2 139.5,696.4 147.5,680.4 155.5,683.4 163.5,676.4 171.5,677.6 179.5,682.4 187.5,683.4 195.5,683.4 203.5,684.4 211.5,685.3 219.5,683.4 227.5,687.9 235.5,693.2 243.5,688.9 251.5,682.4 259.5,685.3 267.5,686.3 275.5,689.3 283.5,692.8 291.5,696.4 299.5,690.9 307.5,687.3 315.5,690.9 323.5,703.3 331.5,687.0 339.5,685.0 347.5,681.6 355.5,682.4 363.5,686.3 371.5,678.4 379.5,677.0 387.5,676.4 395.5,680.4 403.5,677.0 411.5,667.8 419.5,664.6 427.5,666.2 435.5,667.2 443.5,667.2 451.5,665.6 459.5,665.6 467.5,667.2 475.5,662.6 483.5,663.6 491.5,665.6 499.5,664.6 507.5,665.6 515.5,668.5 523.5,635.5 531.5,635.5 539.5,641.5 547.5,645.0 555.5,645.4 563.5,654.7 571.5,669.5 579.5,662.2 587.5,664.6 595.5,663.6 603.5,661.2 611.5,668.5 619.5,671.5 627.5,670.5 635.5,669.7 643.5,666.2 651.5,662.6 659.5,666.6 667.5,663.6 675.5,665.2 683.5,666.6 691.5,661.2 699.5,657.3 707.5,657.3 715.5,660.6 723.5,657.3 731.5,651.3 739.5,651.3 747.5,650.4 755.5,650.4 763.5,654.3 771.5,655.7 779.5,649.4 787.5,647.4 795.5,643.8 803.5,642.5 811.5,635.5 819.5,640.5 827.5,651.3 835.5,650.4 843.5,654.3 851.5,650.4 859.5,647.4 867.5,667.2 875.5,660.6 883.5,659.6 891.5,659.6 899.5,661.2 907.5,665.2 915.5,679.6 923.5,671.5 931.5,671.5 939.5,679.4 947.5,673.5 955.5,663.2 963.5,659.6 971.5,666.2 979.5,670.1 987.5,670.1 995.5,667.6 1003.5,668.1 1011.5,665.6 1019.5,672.1 1027.5,659.6 1035.5,660.2 1043.5,660.2 1051.5,657.3 1059.5,651.7 1067.5,655.3 1075.5,656.3 1083.5,660.2 1091.5,657.3 1099.5,653.7 1107.5,649.4 1115.5,648.4 1123.5,650.4 1131.5,646.4 1139.5,653.9 1147.5,656.3 1155.5,674.1 1163.5,674.5 1171.5,675.5 1179.5,675.5 1187.5,671.5 1195.5,671.5 1203.5,669.5 1211.5,679.6 1219.5,676.6 1227.5,675.5 1235.5,682.0 1243.5,686.3 1251.5,685.5 1259.5,675.5 1267.5,676.4 1275.5,672.5 1283.5,670.5 1291.5,659.3 1299.5,639.5 1307.5,638.5 1315.5,643.4" fill="none" stroke="#1e90ff" stroke-width="1" shape-rendering="crispEdges"/>
</g>
<text x="6.5" y="613" font-size="12" fill="#000" textLength="92.5" lengthAdjust="spacingAndGlyphs">RSI(14) 64.2148</text>
<rect x="1667" y="599" width="2" height="1" fill="#000"/>
<text x="1670.3" y="611" font-size="12" fill="#000" textLength="20.6" lengthAdjust="spacingAndGlyphs">100</text>
<text x="1669.4" y="641" font-size="12" fill="#000" textLength="13.7" lengthAdjust="spacingAndGlyphs">70</text>
<text x="1669" y="692" font-size="12" fill="#000" textLength="13.7" lengthAdjust="spacingAndGlyphs">30</text>
<text x="1670.5" y="722" font-size="12" fill="#000" textLength="6.9" lengthAdjust="spacingAndGlyphs">0</text>
<rect x="3" y="726" width="1" height="3" fill="#000"/>
<text x="1.8" y="741" font-size="12" fill="#000" textLength="65.9" lengthAdjust="spacingAndGlyphs">30 Jul 2019</text>
<rect x="99" y="726" width="1" height="3" fill="#000"/>
<text x="97.8" y="741" font-size="12" fill="#000" textLength="68.0" lengthAdjust="spacingAndGlyphs">1 Aug 00:00</text>
<rect x="195" y="726" width="1" height="3" fill="#000"/>
<text x="193.8" y="741" font-size="12" fill="#000" textLength="68.0" lengthAdjust="spacingAndGlyphs">4 Aug 23:00</text>
<rect x="291" y="726" width="1" height="3" fill="#000"/>
<text x="289.8" y="741" font-size="12" fill="#000" textLength="68.0" lengthAdjust="spacingAndGlyphs">6 Aug 20:00</text>
<rect x="387" y="726" width="1" height="3" fill="#000"/>
<text x="385.8" y="741" font-size="12" fill="#000" textLength="68.0" lengthAdjust="spacingAndGlyphs">8 Aug 20:00</text>
<rect x="483" y="726" width="1" height="3" fill="#000"/>
<text x="481.8" y="741" font-size="12" fill="#000" textLength="75.1" lengthAdjust="spacingAndGlyphs">12 Aug 16:00</text>
<rect x="579" y="726" width="1" height="3" fill="#000"/>
<text x="577.8" y="741" font-size="12" fill="#000" textLength="75.1" lengthAdjust="spacingAndGlyphs">14 Aug 16:00</text>
<rect x="675" y="726" width="1" height="3" fill="#000"/>
<text x="673.8" y="741" font-size="12" fill="#000" textLength="75.1" lengthAdjust="spacingAndGlyphs">16 Aug 16:00</text>
<rect x="771" y="726" width="1" height="3" fill="#000"/>
<text x="769.8" y="741" font-size="12" fill="#000" textLength="75.1" lengthAdjust="spacingAndGlyphs">20 Aug 12:00</text>
<rect x="867" y="726" width="1" height="3" fill="#000"/>
<text x="865.8" y="741" font-size="12" fill="#000" textLength="75.1" lengthAdjust="spacingAndGlyphs">22 Aug 12:00</text>
<rect x="963" y="726" width="1" height="3" fill="#000"/>
<text x="961.8" y="741" font-size="12" fill="#000" textLength="75.1" lengthAdjust="spacingAndGlyphs">26 Aug 08:00</text>
<rect x="1059" y="726" width="1" height="3" fill="#000"/>
<text x="1057.8" y="741" font-size="12" fill="#000" textLength="75.1" lengthAdjust="spacingAndGlyphs">28 Aug 12:00</text>
<rect x="1155" y="726" width="1" height="3" fill="#000"/>
<text x="1153.8" y="741" font-size="12" fill="#000" textLength="75.1" lengthAdjust="spacingAndGlyphs">30 Aug 12:00</text>
<rect x="1251" y="726" width="1" height="3" fill="#000"/>
<text x="1249.8" y="741" font-size="12" fill="#000" textLength="68.7" lengthAdjust="spacingAndGlyphs">3 Sep 12:00</text>
<rect x="4" y="60" width="287" height="80" fill="#ffffff"/>
<rect x="6" y="89" width="141" height="49" fill="url(#gpx)"/>
<rect x="6.5" y="89.5" width="140" height="48" fill="none" stroke="#0000a0"/>
<rect x="149" y="89" width="140" height="49" fill="url(#gpx)"/>
<rect x="149.5" y="89.5" width="139" height="48" fill="none" stroke="#0000a0"/>
<rect x="6" y="62" width="68" height="28" fill="url(#gtab)"/>
<path d="M6.5,90 L6.5,62.5 L73.5,62.5 L73.5,89" fill="none" stroke="#0000a0"/>
<rect x="10" y="88" width="61" height="1" fill="#0808a8"/>
<rect x="10" y="89" width="61" height="1" fill="#8c8cff"/>
<rect x="221" y="62" width="68" height="28" fill="url(#gtab)"/>
<path d="M221.5,90 L221.5,62.5 L288.5,62.5 L288.5,89" fill="none" stroke="#0000a0"/>
<rect x="225" y="88" width="61" height="1" fill="#0808a8"/>
<rect x="225" y="89" width="61" height="1" fill="#8c8cff"/>
<rect x="76.5" y="62.5" width="142" height="24" fill="#fff" stroke="#a8a8a8"/>
<rect x="78" y="64" width="21" height="21" fill="url(#gbtn)"/>
<rect x="100" y="62" width="1" height="25" fill="#a8a8a8"/>
<rect x="196" y="64" width="21" height="21" fill="url(#gbtn)"/>
<rect x="194" y="62" width="1" height="25" fill="#a8a8a8"/>
<path d="M84.5,73 L91.5,73 L88,77 Z" fill="url(#garr)" shape-rendering="auto"/>
<path d="M202.5,76 L209.5,76 L206,72 Z" fill="url(#garr)" shape-rendering="auto"/>
<text x="160" y="80.2" font-size="15" fill="#000" textLength="30" lengthAdjust="spacingAndGlyphs">1.00</text>
<text x="23.2" y="81" font-size="16" fill="#fff" textLength="33" lengthAdjust="spacingAndGlyphs">SELL</text>
<text x="240.3" y="81" font-size="16" fill="#fff" textLength="29" lengthAdjust="spacingAndGlyphs">BUY</text>
<text x="45.4" y="127.2" font-family="DejaVu Sans" font-weight="bold" font-size="14" fill="#fff" textLength="17.8" lengthAdjust="spacingAndGlyphs">60</text>
<text x="187.6" y="127.2" font-family="DejaVu Sans" font-weight="bold" font-size="14" fill="#fff" textLength="17.8" lengthAdjust="spacingAndGlyphs">60</text>
<text x="66.2" y="127.2" font-size="42.5" fill="#fff" textLength="44" lengthAdjust="spacingAndGlyphs">41</text>
<text x="209.8" y="127.2" font-size="42.5" fill="#fff" textLength="44" lengthAdjust="spacingAndGlyphs">49</text>
<text x="115.3" y="108.3" font-family="DejaVu Sans" font-weight="bold" font-size="13.3" fill="#fff" textLength="9.4" lengthAdjust="spacingAndGlyphs">0</text>
<text x="258.9" y="108.3" font-family="DejaVu Sans" font-weight="bold" font-size="13.3" fill="#fff" textLength="9.4" lengthAdjust="spacingAndGlyphs">0</text>
</svg>
</body></html>
